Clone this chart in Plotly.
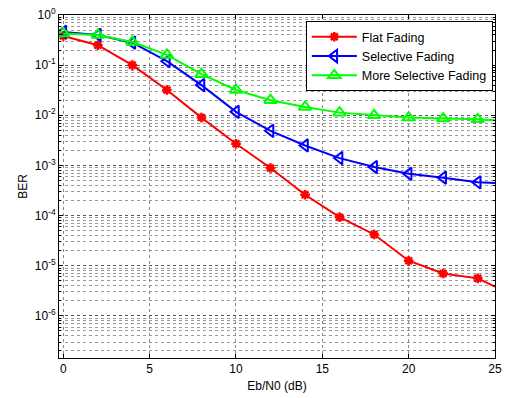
import plotly.graph_objects as go

ebn0 = [0, 2, 4, 6, 8, 10, 12, 14, 16, 18, 20, 22, 24, 26]
ber_flat = [0.38, 0.25, 0.10, 0.032, 0.009, 0.0027, 8.9e-4, 2.6e-4, 9.3e-5, 4.2e-5, 1.26e-5, 7.0e-6, 5.6e-6, 2.6e-6]
ber_sel = [0.46, 0.40, 0.28, 0.12, 0.040, 0.0117, 0.0049, 0.0025, 0.0014, 9.3e-4, 6.8e-4, 5.7e-4, 4.6e-4, 4.3e-4]
ber_more = [0.43, 0.40, 0.29, 0.16, 0.066, 0.032, 0.020, 0.0147, 0.0113, 0.0100, 0.0090, 0.0086, 0.0083, 0.0076]
names = ["Flat Fading", "Selective Fading", "More Selective Fading"]
y_tick_exps = [0, -1, -2, -3, -4, -5, -6]
x_ticks = [0, 5, 10, 15, 20, 25]

font = "Liberation Sans, Arial, Helvetica, sans-serif"

fig = go.Figure()
fig.add_trace(go.Scatter(x=ebn0, y=ber_flat, name=names[0], mode="lines+markers",
                         line=dict(color="#ff0000", width=2),
                         marker=dict(symbol="asterisk-open", size=8, color="#ff0000",
                                     line=dict(color="#ff0000", width=2.5))))
fig.add_trace(go.Scatter(x=ebn0, y=ber_sel, name=names[1], mode="lines+markers",
                         line=dict(color="#0000ff", width=2),
                         marker=dict(symbol="triangle-left-open", size=11, color="#0000ff",
                                     line=dict(color="#0000ff", width=2))))
fig.add_trace(go.Scatter(x=ebn0, y=ber_more, name=names[2], mode="lines+markers",
                         line=dict(color="#00ff00", width=2),
                         marker=dict(symbol="triangle-up-open", size=11, color="#00ff00",
                                     line=dict(color="#00ff00", width=2))))

minor_vals = [k * 10.0 ** e for e in range(-7, 0) for k in range(2, 10)]

fig.update_layout(
    width=505, height=398,
    margin=dict(l=59, r=10, t=15, b=40, autoexpand=False),
    paper_bgcolor="white", plot_bgcolor="white",
    font=dict(family=font, size=12, color="black"),
    legend=dict(x=0.995, y=0.982, xanchor="right", yanchor="top",
                bgcolor="white", bordercolor="black", borderwidth=1,
                font=dict(size=12.5), tracegroupgap=0, itemwidth=45),
    showlegend=True,
)
fig.update_xaxes(range=[-0.25, 25], tickvals=x_ticks, ticktext=[str(v) for v in x_ticks],
                 automargin=False,
                 showline=True, linecolor="black", linewidth=1, mirror="ticks",
                 ticks="inside", ticklen=4, tickcolor="black",
                 showgrid=True, gridcolor="#8a8a8a", gridwidth=1, griddash="dot",
                 zeroline=False,
                 title=dict(text="Eb/N0 (dB)", standoff=6, font=dict(size=12)))
fig.update_yaxes(type="log", range=[-6.84, 0],
                 tickvals=[10.0 ** e for e in y_tick_exps],
                 ticktext=["10<sup>%d</sup>" % e for e in y_tick_exps],
                 automargin=False,
                 showline=True, linecolor="black", linewidth=1, mirror="ticks",
                 ticks="inside", ticklen=4, tickcolor="black",
                 showgrid=True, gridcolor="#555555", gridwidth=1, griddash="dot",
                 zeroline=False,
                 minor=dict(tickvals=minor_vals, showgrid=True, gridcolor="#999999",
                            griddash="dot", gridwidth=1, ticks="inside", ticklen=2,
                            tickcolor="black"),
                 title=dict(text="BER", standoff=4, font=dict(size=12)))

fig.write_html("out.html", config={"displayModeBar": False},
               post_script="document.body.style.margin='0';document.body.style.overflow='hidden';")
